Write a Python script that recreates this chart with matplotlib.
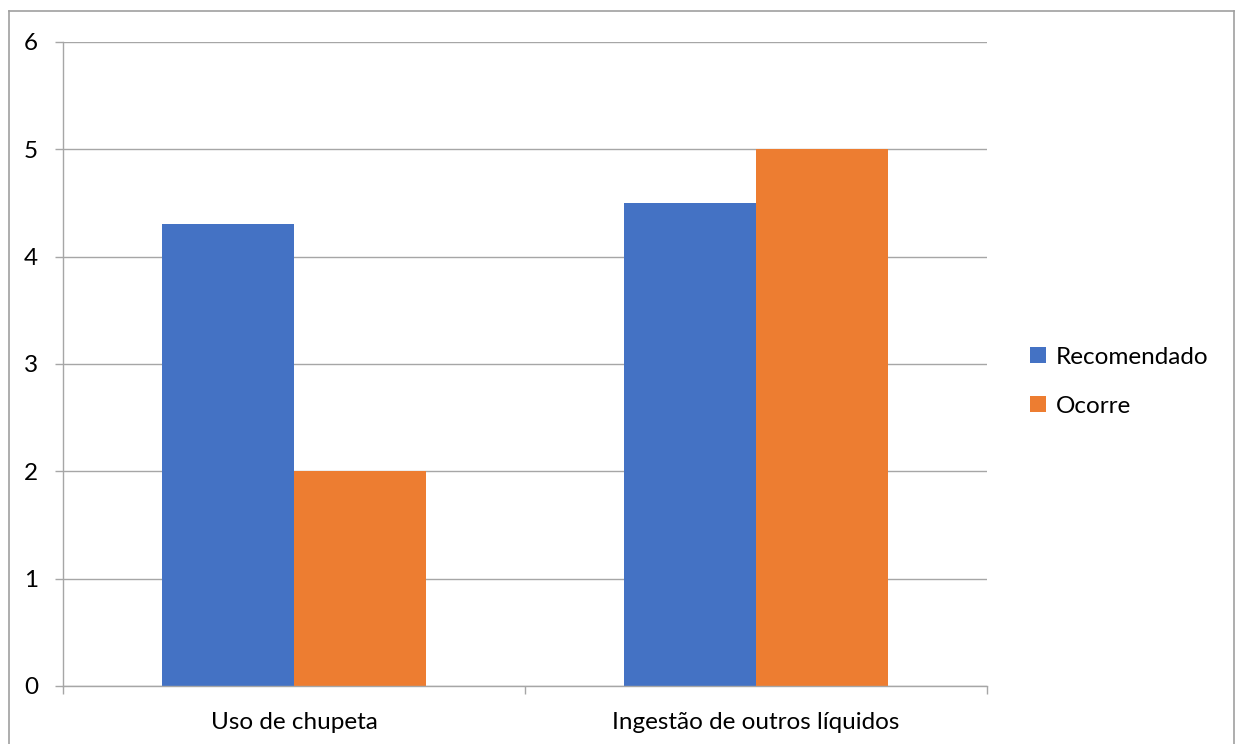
import matplotlib
matplotlib.use("Agg")
import matplotlib.pyplot as plt
from matplotlib.lines import Line2D
import numpy as np

categories = ["Uso de chupeta", "Ingestão de outros líquidos"]
series_names = ["Recomendado", "Ocorre"]
recomendado = [4.3, 4.5]
ocorre = [2.0, 5.0]
y_ticks = [0, 1, 2, 3, 4, 5, 6]

colors = ["#4472C4", "#ED7D31"]
grid_color = "#A6A6A6"
fs = 17.5

plt.rcParams["font.family"] = ["Lato", "DejaVu Sans"]

W, H = 1235, 744
fig = plt.figure(figsize=(W / 100, H / 100), dpi=100)
ax = fig.add_axes([63 / W, 1 - 686 / H, (987 - 63) / W, (686 - 42) / H])

x = np.arange(len(categories))
width = 0.285
ax.bar(x - width / 2, recomendado, width, color=colors[0], label=series_names[0], zorder=3)
ax.bar(x + width / 2, ocorre, width, color=colors[1], label=series_names[1], zorder=3)

ax.set_xlim(-0.5, len(categories) - 0.5)
ax.set_ylim(0, 6)
ax.set_yticks(y_ticks)
ax.set_yticklabels([str(t) for t in y_ticks], fontsize=fs)
ax.yaxis.grid(True, color=grid_color, linewidth=1, zorder=0)

ax.set_xticks(x)
ax.set_xticklabels(categories, fontsize=fs)
ax.set_xticks(np.arange(-0.5, len(categories)), minor=True)
ax.tick_params(axis="x", which="major", length=0, pad=19)
ax.tick_params(axis="x", which="minor", length=6, color=grid_color, width=1, direction="out")
ax.tick_params(axis="y", length=6, color=grid_color, width=1, pad=12)

for side in ["top", "right"]:
    ax.spines[side].set_visible(False)
for side in ["left", "bottom"]:
    ax.spines[side].set_color(grid_color)
    ax.spines[side].set_linewidth(1)
    ax.spines[side].set_zorder(4)

leg = fig.legend(loc="upper left", bbox_to_anchor=(1008 / W, 1 - 325 / H),
                 frameon=False, fontsize=fs, handlelength=0.65, handleheight=0.65,
                 handletextpad=0.4, labelspacing=1.15)

# chart area outline
bx0, bx1, by0 = 8.5 / W, 1233.5 / W, 1 - 11 / H
for xs, ys in [([bx0, bx0], [-0.1, by0]), ([bx0, bx1], [by0, by0]), ([bx1, bx1], [by0, -0.1])]:
    fig.add_artist(Line2D(xs, ys, transform=fig.transFigure, color="#A0A0A0", linewidth=1.2))

fig.savefig("out.png", dpi=100)
